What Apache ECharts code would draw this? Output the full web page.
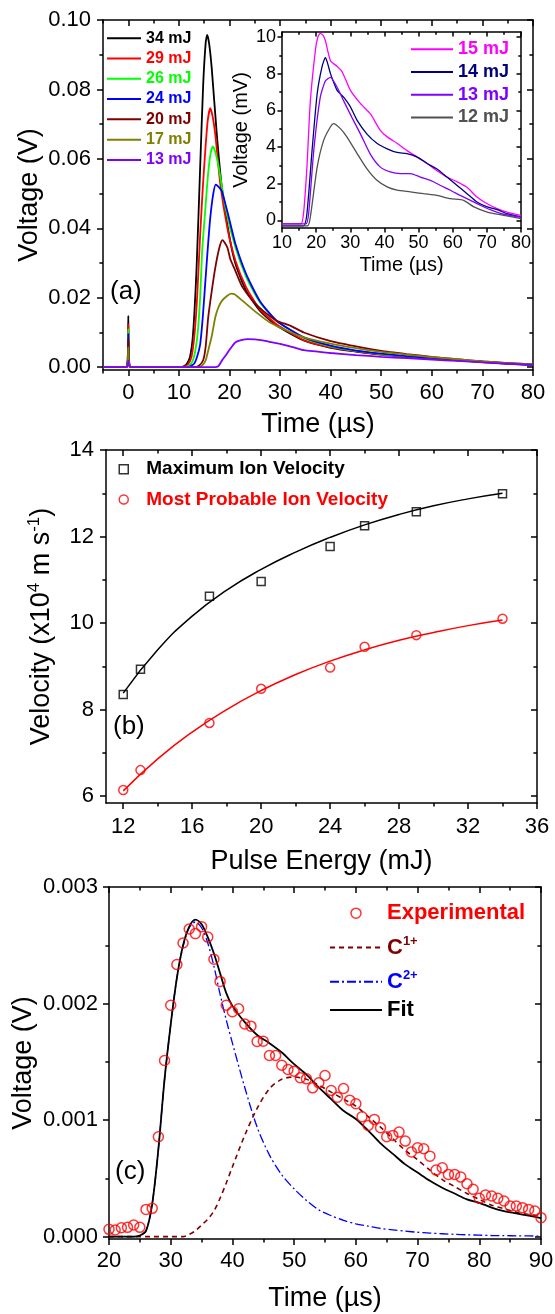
<!DOCTYPE html>
<html>
<head>
<meta charset="utf-8">
<script src="https://cdn.jsdelivr.net/npm/echarts@6.0.0/dist/echarts.min.js"></script>
<style>
html,body{margin:0;padding:0;background:#fff;}
#fig{width:555px;height:1314px;}
</style>
</head>
<body>
<div id="fig"></div>
<script>
var FONT = 'Liberation Sans, Arial, sans-serif';

// ---- (a) ion signals: [time us, voltage V]
var sig34 = [[-5,0],[-0.4,0],[-0.1,0.003],[0,0.0148],[0.12,0.003],[0.5,0],[10.5,0],[11.5,0.0008],[12.2,0.003],[12.8,0.0096],[13.5,0.0287],[14.2,0.0574],[14.8,0.0813],[15.3,0.0935],[15.6,0.0957],[16,0.093],[16.5,0.086],[17.5,0.067],[18.5,0.0517],[19.9,0.0383],[21.2,0.0297],[23.3,0.022],[26,0.0163],[29.3,0.012],[34.7,0.0077],[40,0.0056],[45,0.0045],[50,0.0036],[55,0.003],[60,0.0025],[65,0.002],[70,0.0015],[75,0.001],[80,0.0007]];
var sig29 = [[-5,0],[-0.4,0],[-0.1,0.0025],[0,0.0124],[0.12,0.0025],[0.5,0],[10.8,0],[11.8,0.0008],[12.5,0.003],[13.1,0.0096],[13.6,0.02],[14.2,0.038],[14.7,0.051],[15.2,0.062],[15.7,0.071],[16.2,0.0746],[16.7,0.072],[17.2,0.067],[18.2,0.0526],[19.6,0.040],[21.2,0.0306],[23.3,0.023],[26,0.0167],[29.3,0.0124],[34.7,0.0078],[40,0.0057],[45,0.0046],[50,0.0037],[55,0.0031],[60,0.0026],[65,0.002],[70,0.0015],[75,0.0011],[80,0.0007]];
var sig26 = [[-5,0],[-0.4,0],[-0.1,0.0022],[0,0.011],[0.12,0.0022],[0.5,0],[11.2,0],[12.3,0.0008],[13,0.003],[13.7,0.0096],[14.2,0.02],[14.6,0.0335],[15.2,0.045],[15.7,0.0545],[16.2,0.061],[16.7,0.0636],[17.2,0.062],[17.9,0.0574],[19.2,0.046],[21.2,0.0344],[23.3,0.026],[26,0.0187],[29.3,0.0134],[34.7,0.0084],[40,0.006],[45,0.0047],[50,0.0038],[55,0.0032],[60,0.0027],[65,0.0021],[70,0.0016],[75,0.0011],[80,0.0007]];
var sig24 = [[-5,0],[-0.4,0],[-0.1,0.002],[0,0.0096],[0.12,0.002],[0.5,0],[11.8,0],[13,0.001],[13.6,0.003],[14.2,0.0065],[14.7,0.014],[15.2,0.024],[15.7,0.034],[16.2,0.043],[16.8,0.05],[17.3,0.0526],[17.8,0.052],[18.5,0.0507],[19.9,0.043],[21.2,0.0354],[23.3,0.0268],[26,0.0191],[29.3,0.0134],[34.7,0.0086],[40,0.0062],[45,0.0048],[50,0.0039],[55,0.0032],[60,0.0027],[65,0.0021],[70,0.0016],[75,0.0011],[80,0.0007]];
var sig20 = [[-5,0],[-0.4,0],[-0.1,0.0016],[0,0.0081],[0.12,0.0016],[0.5,0],[13,0],[14,0.0005],[14.8,0.002],[15.3,0.006],[15.8,0.0144],[16.5,0.022],[17.2,0.0287],[18,0.0344],[18.6,0.0366],[19,0.036],[19.6,0.0344],[20.2,0.031],[20.9,0.0287],[21.6,0.0262],[22.6,0.023],[24.6,0.0191],[26.6,0.0163],[29.3,0.0134],[32,0.012],[34.7,0.0100],[40,0.0075],[45,0.006],[50,0.0047],[55,0.0038],[60,0.003],[65,0.0023],[70,0.0017],[75,0.0012],[80,0.0008]];
var sig17 = [[-5,0],[-0.4,0],[-0.1,0.0012],[0,0.0057],[0.12,0.0012],[0.5,0],[14,0],[14.8,0.0008],[15.3,0.002],[15.8,0.0048],[16.5,0.009],[17.2,0.0144],[17.8,0.0172],[18.5,0.0191],[19.5,0.0205],[20.3,0.0212],[21,0.021],[22.6,0.0191],[25.3,0.0158],[28,0.0129],[31.4,0.0105],[34.7,0.0086],[40,0.0068],[45,0.0055],[50,0.0044],[55,0.0036],[60,0.0029],[65,0.0023],[70,0.0017],[75,0.0012],[80,0.0008]];
var sig13 = [[-5,0],[-0.4,0],[-0.1,0.0005],[0,0.002],[0.12,0.0005],[0.5,0],[17.2,0],[17.8,0.0003],[18.5,0.0019],[19.2,0.0033],[19.9,0.0048],[20.6,0.0062],[21.2,0.0072],[22.3,0.0078],[23.6,0.0081],[25,0.008],[26.6,0.0077],[28.3,0.0072],[30,0.0067],[32.5,0.0058],[34.7,0.0049],[40,0.0041],[45,0.0035],[50,0.003],[55,0.0026],[60,0.0022],[65,0.0018],[70,0.0014],[75,0.001],[80,0.0007]];
var namesA = ['34 mJ','29 mJ','26 mJ','24 mJ','20 mJ','17 mJ','13 mJ'];
var colorsA = ['#000000','#ff0000','#00ff00','#0000ff','#800000','#808000','#8000ff'];

// ---- inset: [time us, voltage mV]
var ins15 = [[10,-0.2],[15.5,-0.2],[16.3,0.36],[17.3,2.9],[18.3,6.5],[19.8,9.3],[20.5,10],[21.2,10.2],[22,10.1],[22.7,9.8],[24.2,8.7],[26.1,8.4],[27.6,8.1],[30,7.1],[33,6.36],[35.9,5.8],[38.8,4.9],[40.8,4.55],[43.7,4.2],[46.6,3.8],[49.6,3.45],[52.5,3.1],[55.4,2.7],[58.3,2.36],[61.3,2.1],[64.2,1.8],[67.1,1.27],[70.1,0.9],[73,0.64],[75.9,0.45],[80,0.27]];
var ins14 = [[10,-0.3],[16.3,-0.3],[17.3,0.36],[18.8,3.8],[20.3,6.9],[21.7,8.36],[22.7,8.87],[23.3,8.6],[24.2,8.0],[26.1,7.1],[28.1,6.7],[30,6.2],[32,5.45],[34.9,4.7],[37.8,4.2],[40.8,3.9],[43.7,3.7],[46.6,3.64],[49.6,3.45],[52.5,3.1],[55.4,2.8],[58.3,2.36],[61.3,1.9],[64.2,1.45],[67.1,1.0],[70.1,0.73],[73,0.58],[75.9,0.36],[80,0.18]];
var ins13 = [[10,-0.2],[17,-0.2],[17.8,0.36],[19.3,3.8],[21.2,6.7],[22.7,7.6],[24.2,7.8],[26.1,7.27],[28.1,6.5],[30.5,5.6],[33,4.7],[35.9,3.6],[38.8,2.9],[41.7,2.64],[44.7,2.55],[47.6,2.55],[50.5,2.36],[53.5,2.18],[56.4,1.9],[59.3,1.64],[62.2,1.36],[65.2,1.09],[68.1,0.82],[71,0.58],[74.9,0.33],[80,0.18]];
var ins12 = [[10,-0.3],[17.5,-0.3],[18.3,0.18],[20.3,2.9],[22.2,4.36],[24.2,5.1],[25.1,5.27],[27.1,5.0],[29,4.55],[32,3.64],[34.9,2.8],[37.8,2.18],[40.8,1.82],[43.7,1.64],[47.6,1.55],[51.5,1.45],[55.4,1.36],[59.3,1.18],[63.2,1.09],[66.2,0.73],[70.1,0.45],[75,0.27],[80,0.09]];
var namesIns = ['15 mJ','14 mJ','13 mJ','12 mJ'];
var colorsIns = ['#ff00ff','#000080','#8000ff','#505050'];

// ---- (b) velocities vs pulse energy
var energy = [12,13,17,20,24,26,29,34];
var vMax = [8.35,8.93,10.62,10.96,11.77,12.25,12.57,12.99];
var vProb = [6.14,6.6,7.69,8.48,8.97,9.45,9.72,10.1];
var fitE = [12,14,16,18,20,22,24,26,28,30,32,34];
var fitMax = [8.38,9.38,10.16,10.76,11.24,11.64,11.98,12.27,12.51,12.71,12.87,13.0];
var fitProb = [6.12,6.86,7.48,8.0,8.44,8.81,9.12,9.38,9.6,9.78,9.94,10.07];

// ---- (c) experimental signal and fit components
var tExp = [20,21,22,23,24,25,26,27,28,29,30,31,32,33,34,35,36,37,38,39,40,41,42,43,44,45,46,47,48,49,50,51,52,53,54,55,56,57,58,59,60,61,62,63,64,65,66,67,68,69,70,71,72,73,74,75,76,77,78,79,80,81,82,83,84,85,86,87,88,89,90];
var vExp = [0.000063,0.000057,0.000077,0.00008,0.0001,0.00008,0.000234,0.000243,0.000857,0.001511,0.001985,0.002335,0.00252,0.00264,0.0026,0.00266,0.00257,0.00238,0.00219,0.001985,0.00193,0.001955,0.001825,0.001806,0.001674,0.001677,0.001554,0.001554,0.001471,0.001434,0.00142,0.001363,0.001354,0.001277,0.00132,0.001383,0.001254,0.001197,0.001271,0.001171,0.00114,0.001029,0.000954,0.001006,0.000934,0.000857,0.000869,0.000897,0.00082,0.000726,0.000763,0.000754,0.000691,0.000571,0.000591,0.000534,0.000534,0.000511,0.000454,0.000406,0.000329,0.000357,0.000349,0.000329,0.000306,0.000263,0.000263,0.000249,0.000234,0.00022,0.000163];
var tFit = [20,24,25,26,27,28,29,30,31,32,33,34,35,36,37,38,39,40,42,44,46,48,50,52,54,56,58,60,62,64,66,68,70,72,74,76,78,80,82,84,86,88,90];
var vFit = [0,0,0.00001,0.00005,0.00028,0.00075,0.00135,0.00182,0.00222,0.0025,0.00266,0.00272,0.00268,0.00257,0.00243,0.00226,0.00209,0.00198,0.00184,0.00173,0.00166,0.00158,0.00148,0.00139,0.00128,0.00118,0.00108,0.00101,0.00091,0.0008,0.00071,0.00062,0.00055,0.00048,0.00042,0.00037,0.00032,0.00029,0.00025,0.00022,0.0002,0.00018,0.00016];
var vC2 = [0,0,0.00001,0.00005,0.00028,0.00075,0.00135,0.00182,0.00222,0.00249,0.00265,0.0027,0.00265,0.00252,0.00232,0.00208,0.00186,0.00166,0.00128,0.00094,0.0007,0.00053,0.00041,0.00031,0.00023,0.00018,0.00014,0.00011,0.00009,0.00007,0.000058,0.000047,0.000038,0.000031,0.000025,0.00002,0.000016,0.000013,0.00001,0.000009,0.000007,0.000006,0.000005];
var vC1 = [0,0,0,0,0,0,0,0,0,0,0.00002,0.00005,0.0001,0.00015,0.00022,0.00033,0.00046,0.0006,0.00087,0.0011,0.00127,0.00135,0.00137,0.00135,0.0013,0.00124,0.00118,0.00112,0.00103,0.00094,0.00084,0.00074,0.00066,0.00057,0.00049,0.00043,0.00037,0.00032,0.00027,0.00024,0.00021,0.00019,0.00018];

// ---- tick values
var ticksAx = [0,10,20,30,40,50,60,70,80], minorAx = [-5,5,15,25,35,45,55,65,75];
var ticksAy = [0,0.02,0.04,0.06,0.08,0.1], minorAy = [0.01,0.03,0.05,0.07,0.09];
var ticksIx = [10,20,30,40,50,60,70,80], minorIx = [15,25,35,45,55,65,75];
var ticksIy = [0,2,4,6,8,10], minorIy = [1,3,5,7,9];
var ticksBx = [12,16,20,24,28,32,36], minorBx = [14,18,22,26,30,34];
var ticksBy = [6,8,10,12,14], minorBy = [7,9,11,13];
var ticksCx = [20,30,40,50,60,70,80,90], minorCx = [25,35,45,55,65,75,85];
var ticksCy = [0,0.001,0.002,0.003], minorCy = [0.0005,0.0015,0.0025];

function zip(a, b) {
  return a.map(function (v, i) { return [v, b[i]]; });
}

var xAxes = [], yAxes = [];
// four axes per side pair: labelled major, minor, opposite major (inside), opposite minor (inside)
function addAxes(list, grid, min, max, major, minor, sides, tick, label, name) {
  var first = list.length;
  var line = {color: '#000', width: 1.5};
  var common = {type: 'value', gridIndex: grid, min: min, max: max, splitLine: {show: false}, axisPointer: {show: false}, silent: true};
  list.push(Object.assign({}, common, {
    position: sides[0],
    axisLine: {show: true, onZero: false, lineStyle: line},
    axisTick: {show: true, length: tick, customValues: major, lineStyle: line},
    axisLabel: Object.assign({customValues: major, color: '#000', fontFamily: FONT}, label)
  }, name));
  list.push(Object.assign({}, common, {
    position: sides[0],
    axisLine: {show: false, onZero: false},
    axisTick: {show: true, length: tick * 0.6, customValues: minor, lineStyle: line},
    axisLabel: {show: false}
  }));
  list.push(Object.assign({}, common, {
    position: sides[1],
    axisLine: {show: true, onZero: false, lineStyle: line},
    axisTick: {show: true, inside: true, length: tick, customValues: major, lineStyle: line},
    axisLabel: {show: false}
  }));
  list.push(Object.assign({}, common, {
    position: sides[1],
    axisLine: {show: false, onZero: false},
    axisTick: {show: true, inside: true, length: tick * 0.6, customValues: minor, lineStyle: line},
    axisLabel: {show: false}
  }));
  return first;
}
function axName(text, gap, size, rich) {
  return {name: text, nameLocation: 'middle', nameGap: gap, nameMoveOverlap: false,
    nameTextStyle: {fontSize: size, fontFamily: FONT, color: '#000', rich: rich}};
}
function fix(n) { return function (v) { return v.toFixed(n); }; }

var axA = addAxes(xAxes, 0, -5, 80, ticksAx, minorAx, ['bottom', 'top'], 6, {fontSize: 22, margin: 12}, axName('Time (\u00b5s)', 41, 27));
var ayA = addAxes(yAxes, 0, -0.0008, 0.1, ticksAy, minorAy, ['left', 'right'], 6, {fontSize: 22, margin: 12, formatter: fix(2)}, axName('Voltage (V)', 60, 27));
var axI = addAxes(xAxes, 1, 10, 80, ticksIx, minorIx, ['bottom', 'top'], 4.5, {fontSize: 18, margin: 6}, axName('Time (\u00b5s)', 27, 20));
var ayI = addAxes(yAxes, 1, -0.42, 10.27, ticksIy, minorIy, ['left', 'right'], 4.5, {fontSize: 18, margin: 6}, axName('Voltage (mV)', 31, 20));
var axB = addAxes(xAxes, 2, 11, 36, ticksBx, minorBx, ['bottom', 'top'], 6, {fontSize: 22, margin: 13}, axName('Pulse Energy (mJ)', 45, 27));
var ayB = addAxes(yAxes, 2, 5.84, 14, ticksBy, minorBy, ['left', 'right'], 6, {fontSize: 22, margin: 12},
  axName('Velocity (x10{sup|4} m s{sup|-1})', 49, 27, {sup: {fontSize: 17, color: '#000', fontFamily: FONT, padding: [0, 0, 14, 0]}}));
var axC = addAxes(xAxes, 3, 20, 90, ticksCx, minorCx, ['bottom', 'top'], 6, {fontSize: 22, margin: 11}, axName('Time (\u00b5s)', 46, 27));
var ayC = addAxes(yAxes, 3, -0.00002, 0.003, ticksCy, minorCy, ['left', 'right'], 6, {fontSize: 22, margin: 11, formatter: fix(3)}, axName('Voltage (V)', 72, 27));

function curve(name, data, color, xi, yi, width, dash, smooth) {
  return {type: 'line', name: name, data: data, xAxisIndex: xi, yAxisIndex: yi, symbol: 'none', showSymbol: false,
    smooth: smooth, lineStyle: {color: color, width: width, type: dash || 'solid'},
    itemStyle: {color: color}, silent: true, animation: false};
}

var series = [];
[sig34, sig29, sig26, sig24, sig20, sig17, sig13].forEach(function (d, i) {
  series.push(curve(namesA[i], d, colorsA[i], axA, ayA, 1.8, null, 0.2));
});
[ins15, ins14, ins13, ins12].forEach(function (d, i) {
  series.push(curve(namesIns[i], d, colorsIns[i], axI, ayI, 1.3, null, 0.2));
});
series.push(curve('fitMax', zip(fitE, fitMax), '#000', axB, ayB, 1.5, null, 0.5));
series.push(curve('fitProb', zip(fitE, fitProb), '#f00', axB, ayB, 1.5, null, 0.5));
series.push({type: 'scatter', name: 'Maximum Ion Velocity', data: zip(energy, vMax), xAxisIndex: axB, yAxisIndex: ayB,
  symbol: 'rect', symbolSize: 8, itemStyle: {color: '#fff', borderColor: '#000', borderWidth: 1.5}, silent: true});
series.push({type: 'scatter', name: 'Most Probable Ion Velocity', data: zip(energy, vProb), xAxisIndex: axB, yAxisIndex: ayB,
  symbol: 'circle', symbolSize: 9, itemStyle: {color: '#fff', borderColor: '#f00', borderWidth: 1.5}, silent: true});
series.push(curve('C2+', zip(tFit, vC2), '#0000ff', axC, ayC, 1.3, [9, 3, 2, 3], 0.3));
series.push(curve('C1+', zip(tFit, vC1), '#800000', axC, ayC, 1.6, [5, 4], 0.3));
series.push(curve('Fit', zip(tFit, vFit), '#000', axC, ayC, 1.8, null, 0.3));
series.push({type: 'scatter', name: 'Experimental', data: zip(tExp, vExp), xAxisIndex: axC, yAxisIndex: ayC,
  symbol: 'circle', symbolSize: 10, itemStyle: {color: 'rgba(255,255,255,0)', borderColor: '#f00', borderWidth: 1.5}, silent: true, z: 5});

// line legends: hide the marker drawn in the middle of the line sample
var noMark = {opacity: 0};
function legendItems(names, colors) {
  return names.map(function (n, i) { return {name: n, textStyle: {color: colors[i]}, itemStyle: noMark}; });
}
var legendBase = {orient: 'vertical', padding: 0, itemGap: 0, selectedMode: false};

var option = {
  animation: false,
  backgroundColor: '#fff',
  grid: [
    {left: 103, top: 20, width: 430, height: 350, outerBoundsMode: 'none'},
    {left: 282, top: 32, width: 239, height: 196, outerBoundsMode: 'none'},
    {left: 106, top: 450, width: 431, height: 353, outerBoundsMode: 'none'},
    {left: 109, top: 887, width: 432, height: 352, outerBoundsMode: 'none'}
  ],
  xAxis: xAxes,
  yAxis: yAxes,
  legend: [
    Object.assign({}, legendBase, {left: 106, top: 28, itemWidth: 34, itemHeight: 10,
      textStyle: {fontFamily: FONT, fontSize: 16, fontWeight: 'bold', lineHeight: 20.3},
      data: legendItems(namesA, colorsA)}),
    Object.assign({}, legendBase, {left: 410, top: 38, itemWidth: 42, itemHeight: 10,
      textStyle: {fontFamily: FONT, fontSize: 18, fontWeight: 'bold', lineHeight: 22.7},
      data: legendItems(namesIns, colorsIns)}),
    Object.assign({}, legendBase, {left: 118.5, top: 454, itemWidth: 9, itemHeight: 9,
      textStyle: {fontFamily: FONT, fontSize: 19, fontWeight: 'bold', lineHeight: 30.3, padding: [0, 0, 0, 13]},
      data: [
        {name: 'Maximum Ion Velocity', textStyle: {color: '#000'}, itemStyle: {color: '#fff', borderColor: '#000', borderWidth: 1.5}},
        {name: 'Most Probable Ion Velocity', textStyle: {color: '#f00'}, itemStyle: {color: '#fff', borderColor: '#f00', borderWidth: 1.5}}
      ]}),
    Object.assign({}, legendBase, {left: 329, top: 896, itemWidth: 52, itemHeight: 10,
      textStyle: {fontFamily: FONT, fontSize: 22, fontWeight: 'bold', lineHeight: 34.3,
        rich: {s1: {fontSize: 13, fontWeight: 'bold', fontFamily: FONT, color: '#800000', padding: [0, 0, 12, 0]},
               s2: {fontSize: 13, fontWeight: 'bold', fontFamily: FONT, color: '#0000ff', padding: [0, 0, 12, 0]}}},
      formatter: function (n) {
        if (n === 'C1+') return 'C{s1|1+}';
        if (n === 'C2+') return 'C{s2|2+}';
        return n;
      },
      data: [
        {name: 'Experimental', textStyle: {color: '#f00'}, itemStyle: {color: '#fff', borderColor: '#f00', borderWidth: 1.5}},
        {name: 'C1+', textStyle: {color: '#800000'}, itemStyle: noMark},
        {name: 'C2+', textStyle: {color: '#0000ff'}, itemStyle: noMark},
        {name: 'Fit', textStyle: {color: '#000', lineHeight: 18.7}, itemStyle: noMark}
      ]})
  ],
  graphic: [
    {type: 'text', left: 110, top: 279, style: {text: '(a)', fontSize: 26, fontFamily: FONT, fill: '#000'}},
    {type: 'text', left: 113, top: 714, style: {text: '(b)', fontSize: 26, fontFamily: FONT, fill: '#000'}},
    {type: 'text', left: 115, top: 1159, style: {text: '(c)', fontSize: 26, fontFamily: FONT, fill: '#000'}}
  ],
  series: series
};

var chart = echarts.init(document.getElementById('fig'), null, {renderer: 'canvas'});
chart.setOption(option);
</script>
</body>
</html>
